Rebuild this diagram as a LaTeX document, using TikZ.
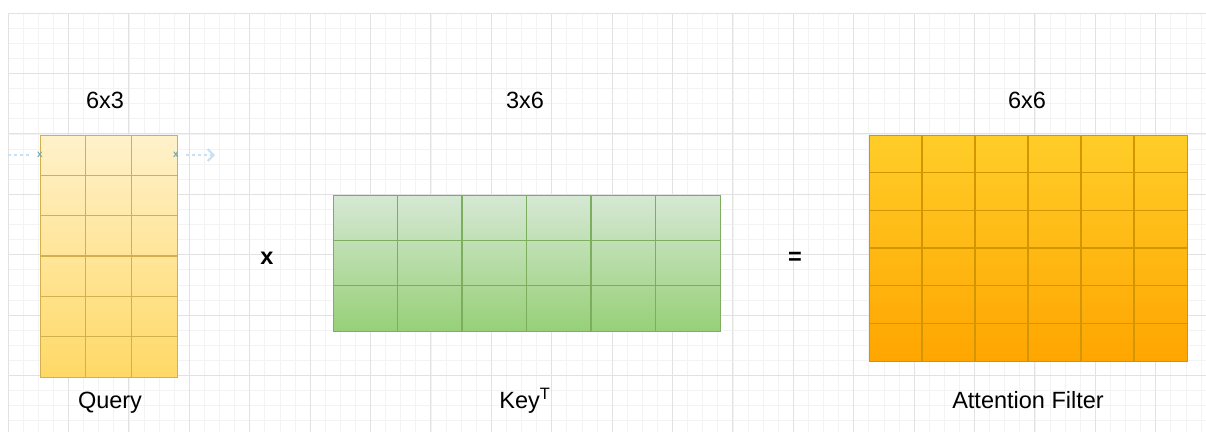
\documentclass[tikz,border=0pt]{standalone}
\usepackage{fontspec}
\setmainfont{Liberation Sans}
\usetikzlibrary{arrows.meta}
\definecolor{attGridMinor}{HTML}{F3F3F3}
\definecolor{attGridMajor}{HTML}{E2E2E2}
\definecolor{attQryTop}{HTML}{FFF1CA}
\definecolor{attQryBot}{HTML}{FFD966}
\definecolor{attQryLine}{HTML}{D2B04E}
\definecolor{attKeyTop}{HTML}{D5E8D4}
\definecolor{attKeyBot}{HTML}{97D077}
\definecolor{attKeyLine}{HTML}{7DAE60}
\definecolor{attFltTop}{HTML}{FFCD28}
\definecolor{attFltBot}{HTML}{FFA500}
\definecolor{attFltLine}{HTML}{D49600}
\definecolor{attHint}{HTML}{C6E0F5}
\definecolor{attMark}{HTML}{6FA8B8}
\tikzset{
  att minor/.style={draw=attGridMinor, line width=0.6pt},
  att major/.style={draw=attGridMajor, line width=0.9pt},
  att qry/.style={draw=attQryLine, line width=1.2pt, top color=attQryTop, bottom color=attQryBot, inner sep=0pt, anchor=north west},
  att key/.style={draw=attKeyLine, line width=1.2pt, top color=attKeyTop, bottom color=attKeyBot, inner sep=0pt, anchor=north west},
  att flt/.style={draw=attFltLine, line width=1.2pt, top color=attFltTop, bottom color=attFltBot, inner sep=0pt, anchor=north west},
  att dim/.style={font=\fontsize{23.5}{28}\selectfont, text=black},
  att name/.style={font=\fontsize{23.5}{28}\selectfont, text=black},
  att op/.style={font=\fontsize{23.5}{28}\selectfont\bfseries, text=black},
  att hint/.style={draw=attHint, line width=2pt, dashed},
}

\begin{document}
\begin{tikzpicture}[x=1pt, y=-1pt]
  \useasboundingbox (0,0) rectangle (1206,432);
  \fill[white] (0,0) rectangle (1206,432);

  % Background grid
  \foreach \k in {0,...,79} {
    \draw[att minor] ({8+\k*15.1},13) -- ({8+\k*15.1},432);
  }
  \foreach \k in {0,...,27} {
    \draw[att minor] (8,{13+\k*15.1}) -- (1206,{13+\k*15.1});
  }
  \foreach \k in {0,...,19} {
    \draw[att major] ({8+\k*60.4},13) -- ({8+\k*60.4},432);
  }
  \foreach \k in {0,...,6} {
    \draw[att major] (8,{13+\k*60.4}) -- (1206,{13+\k*60.4});
  }

  % Query: 6 rows x 3 columns
  \node[att qry, minimum width=137pt, minimum height=242pt] (query) at (40,135) {};
  \foreach \i in {1,2} {
    \draw[draw=attQryLine, line width=1.2pt] ({40+\i*45.67},135) -- ({40+\i*45.67},377);
  }
  \foreach \j in {1,...,5} {
    \draw[draw=attQryLine, line width=1.2pt] (40,{135+\j*40.33}) -- (177,{135+\j*40.33});
  }

  % Key transposed: 3 rows x 6 columns
  \node[att key, minimum width=387pt, minimum height=136pt] (key) at (333,195) {};
  \foreach \i in {1,...,5} {
    \draw[draw=attKeyLine, line width=1.2pt] ({333+\i*64.5},195) -- ({333+\i*64.5},331);
  }
  \foreach \j in {1,2} {
    \draw[draw=attKeyLine, line width=1.2pt] (333,{195+\j*45.33}) -- (720,{195+\j*45.33});
  }

  % Attention filter: 6 rows x 6 columns
  \node[att flt, minimum width=318pt, minimum height=226pt] (filter) at (869,135) {};
  \foreach \i in {1,...,5} {
    \draw[draw=attFltLine, line width=1.2pt] ({869+\i*53},135) -- ({869+\i*53},361);
  }
  \foreach \j in {1,...,5} {
    \draw[draw=attFltLine, line width=1.2pt] (869,{135+\j*37.67}) -- (1187,{135+\j*37.67});
  }

  % Sizes and names
  \node[att dim] (qdim) at (105,100) {6x3};
  \node[att dim] (kdim) at (525,100) {3x6};
  \node[att dim] (fdim) at (1027,100) {6x6};
  \node[att name] (qname) at (110,403) {Query};
  \node[att name] (kname) at (525,401) {Key\textsuperscript{T}};
  \node[att name] (fname) at (1028,400) {Attention Filter};
  \node[att op] (times) at (267,258) {x};
  \node[att op] (equals) at (795,258) {=};

  % Faint connection hints on the query
  \coordinate (hintL) at (8,155);
  \coordinate (hintLend) at (32,155);
  \coordinate (hintR) at (186,155);
  \coordinate (hintRend) at (215,155);
  \draw[att hint] (hintL) -- (hintLend);
  \draw[att hint, -{Straight Barb[length=6pt, width=12pt]}] (hintR) -- (hintRend);
  \node[text=attMark, font=\fontsize{10}{10}\selectfont\bfseries] (markL) at (40,155) {x};
  \node[text=attMark, font=\fontsize{10}{10}\selectfont\bfseries] (markR) at (176,155) {x};
\end{tikzpicture}
\end{document}
